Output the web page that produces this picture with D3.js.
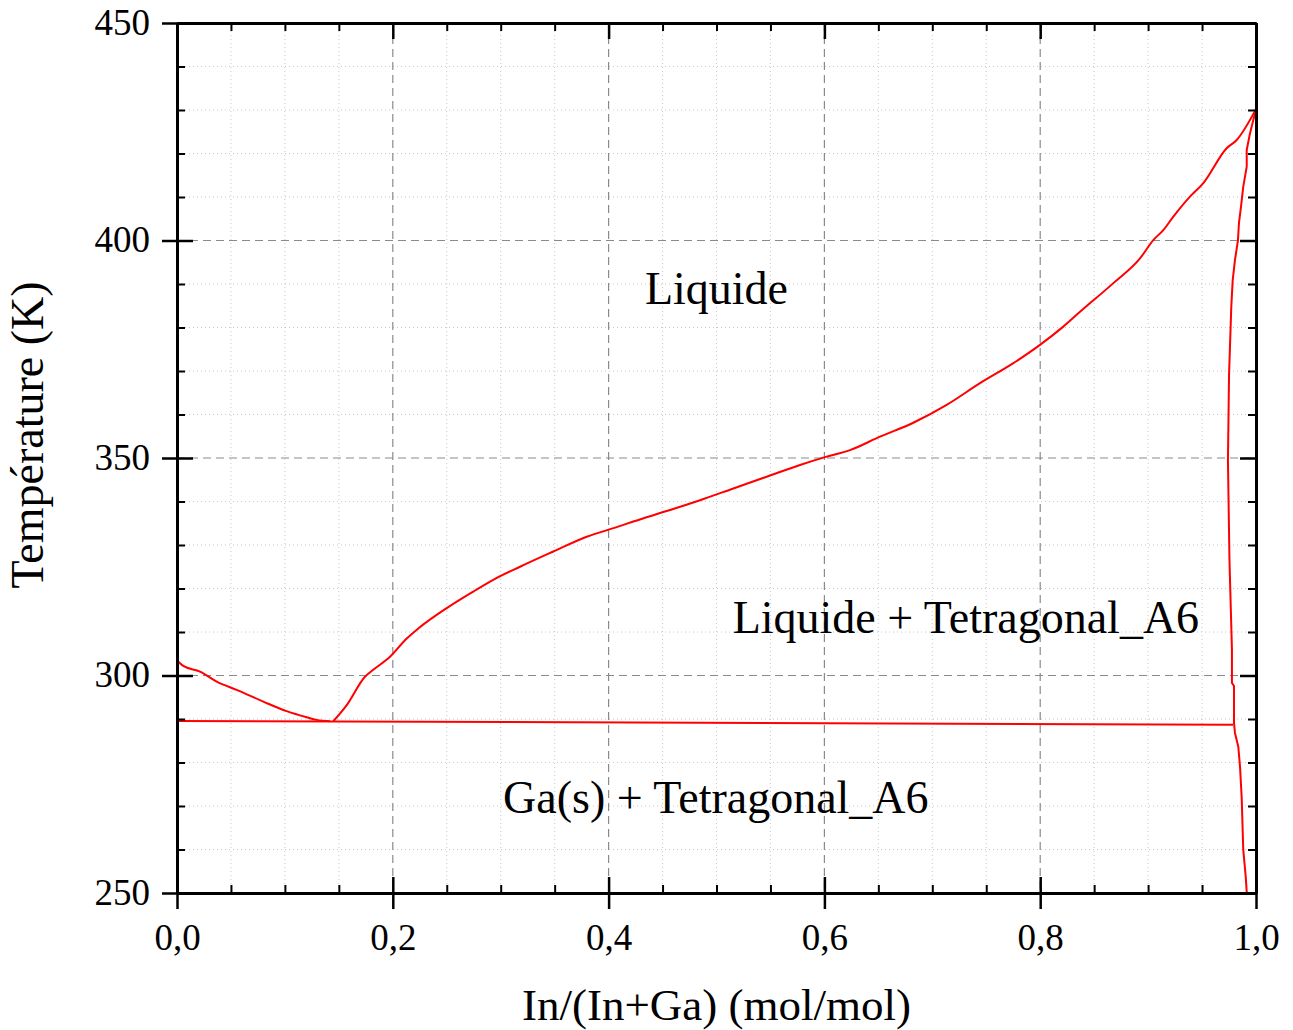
<!DOCTYPE html>
<html>
<head>
<meta charset="utf-8">
<script src="https://cdn.jsdelivr.net/npm/d3@7"></script>
<style>
  html, body { margin: 0; padding: 0; background: #fff; }
  svg { display: block; }
  text { font-family: "Liberation Serif", "Times New Roman", serif; fill: #000; }
</style>
</head>
<body>
<svg id="chart" width="1293" height="1030"></svg>
<script>
// ---- Data ----
const xMajorTicks = [0, 0.2, 0.4, 0.6, 0.8, 1.0];
const xMinorTicks = [0.05, 0.1, 0.15, 0.25, 0.3, 0.35, 0.45, 0.5, 0.55, 0.65, 0.7, 0.75, 0.85, 0.9, 0.95];
const yMajorTicks = [250, 300, 350, 400, 450];
const yMinorTicks = [260, 270, 280, 290, 310, 320, 330, 340, 360, 370, 380, 390, 410, 420, 430, 440];
const xGridMajor = [0.2, 0.4, 0.6, 0.8];
const yGridMajor = [300, 350, 400];

// Ga-side liquidus
const gaLiquidusX = [0.0003, 0.0058, 0.0213, 0.0368, 0.0553, 0.0800, 0.1017, 0.1202, 0.1295, 0.1418];
const gaLiquidusT = [303.4, 302.2, 300.9, 298.6, 296.7, 294.0, 291.8, 290.4, 289.8, 289.5];

// In-side liquidus
const inLiquidusX = [0.1449, 0.1573, 0.1742, 0.1819, 0.1974, 0.2129, 0.2236, 0.2500, 0.2746, 0.2931,
  0.3179, 0.3488, 0.3797, 0.4075, 0.4229, 0.4538, 0.4847, 0.5156, 0.5465, 0.5774,
  0.6006, 0.6237, 0.6515, 0.6824, 0.7133, 0.7442, 0.7751, 0.7998, 0.8214, 0.8369,
  0.8678, 0.8925, 0.9048, 0.9141, 0.9234, 0.9388, 0.9512, 0.9728, 0.9821, 1.0];
const inLiquidusT = [289.5, 293.2, 299.7, 301.3, 304.3, 308.5, 310.8, 315.5, 319.3, 322.0,
  325.0, 328.5, 331.9, 334.1, 335.4, 337.8, 340.3, 343.0, 345.7, 348.4,
  350.2, 351.8, 354.9, 358.1, 362.2, 367.2, 371.8, 376.0, 380.2, 383.6,
  390.2, 395.9, 400.1, 402.4, 405.5, 410.1, 413.2, 421.2, 423.1, 430.2];

// Tetragonal_A6 solidus / solvus
const solidusX = [1.0, 0.9944, 0.9914, 0.9914, 0.9882, 0.9861, 0.9842, 0.9833, 0.9805, 0.9784,
  0.9771, 0.9750, 0.9740, 0.9754, 0.9777, 0.9777, 0.9796, 0.9796, 0.9805, 0.9836,
  0.9852, 0.9867, 0.9882, 0.9905, 0.9914];
const solidusT = [430.2, 424.6, 420.8, 417.0, 412.4, 407.8, 404.0, 400.1, 395.5, 390.9,
  384.8, 369.0, 349.5, 326.6, 305.9, 298.3, 297.6, 289.1, 286.8, 283.6,
  279.0, 272.1, 259.9, 253.7, 250.2];

// Eutectic line
const eutecticX = [0.0, 0.9787];
const eutecticT = [289.55, 288.7];

const regionLabels = ["Liquide", "Liquide + Tetragonal_A6", "Ga(s) + Tetragonal_A6"];
const regionLabelX = [0.4337, 0.5150, 0.3022];
const regionLabelT = [385.5, 309.7, 268.4];

const xTitle = "In/(In+Ga) (mol/mol)";
const yTitle = "Température (K)";

// ---- Layout ----
const L = 177, R = 1256, T = 23, B = 893;
const svg = d3.select("#chart");
const x = d3.scaleLinear().domain([0, 1]).range([L, R]);
const y = d3.scaleLinear().domain([250, 450]).range([B, T]);
const fmtX = d => d3.format(".1f")(d).replace(".", ",");

// ---- Grid ----
const grid = svg.append("g");
grid.selectAll(".vminor").data(xMinorTicks).join("line")
  .attr("x1", d => x(d)).attr("x2", d => x(d)).attr("y1", T).attr("y2", B)
  .attr("stroke", "#c8c8c8").attr("stroke-width", 1).attr("stroke-dasharray", "1,3");
grid.selectAll(".hminor").data(yMinorTicks).join("line")
  .attr("y1", d => y(d)).attr("y2", d => y(d)).attr("x1", L).attr("x2", R)
  .attr("stroke", "#c8c8c8").attr("stroke-width", 1).attr("stroke-dasharray", "1,3");
grid.selectAll(".vmajor").data(xGridMajor).join("line")
  .attr("x1", d => x(d)).attr("x2", d => x(d)).attr("y1", T).attr("y2", B)
  .attr("stroke", "#8a8a8a").attr("stroke-width", 1.2).attr("stroke-dasharray", "8,5");
grid.selectAll(".hmajor").data(yGridMajor).join("line")
  .attr("y1", d => y(d)).attr("y2", d => y(d)).attr("x1", L).attr("x2", R)
  .attr("stroke", "#8a8a8a").attr("stroke-width", 1.2).attr("stroke-dasharray", "8,5");

// ---- Curves ----
const smooth = d3.line().x(d => x(d[0])).y(d => y(d[1])).curve(d3.curveMonotoneX);
const straight = d3.line().x(d => x(d[0])).y(d => y(d[1]));
const curves = [
  { pts: d3.zip(gaLiquidusX, gaLiquidusT), gen: smooth },
  { pts: d3.zip(inLiquidusX, inLiquidusT), gen: smooth },
  { pts: d3.zip(solidusX, solidusT), gen: straight },
  { pts: d3.zip(eutecticX, eutecticT), gen: straight }
];
svg.append("g").selectAll("path").data(curves).join("path")
  .attr("d", d => d.gen(d.pts)).attr("fill", "none").attr("stroke", "#ff0000")
  .attr("stroke-width", 2).attr("stroke-linejoin", "round");

// ---- Axes ----
function styleAxis(g, w) {
  g.select(".domain").attr("stroke", "#000").attr("stroke-width", 3);
  g.selectAll(".tick line").attr("stroke", "#000").attr("stroke-width", w);
}
// bottom
const gB1 = svg.append("g").attr("transform", `translate(0,${B})`)
  .call(d3.axisBottom(x).tickValues(xMajorTicks).tickSize(16).tickSizeOuter(0).tickFormat(fmtX));
styleAxis(gB1, 2.5);
gB1.selectAll("text").attr("y", 57).attr("dy", 0).attr("font-size", 37)
  .attr("font-family", "Liberation Serif, Times New Roman, serif");
const gB2 = svg.append("g").attr("transform", `translate(0,${B})`)
  .call(d3.axisTop(x).tickValues(xMajorTicks).tickSize(16).tickSizeOuter(0).tickFormat(""));
styleAxis(gB2, 2.5);
const gB3 = svg.append("g").attr("transform", `translate(0,${B})`)
  .call(d3.axisTop(x).tickValues(xMinorTicks).tickSize(8).tickSizeOuter(0).tickFormat(""));
styleAxis(gB3, 2);
// top
const gT1 = svg.append("g").attr("transform", `translate(0,${T})`)
  .call(d3.axisBottom(x).tickValues(xMajorTicks).tickSize(16).tickSizeOuter(0).tickFormat(""));
styleAxis(gT1, 2.5);
const gT2 = svg.append("g").attr("transform", `translate(0,${T})`)
  .call(d3.axisBottom(x).tickValues(xMinorTicks).tickSize(8).tickSizeOuter(0).tickFormat(""));
styleAxis(gT2, 2);
// left
const gL1 = svg.append("g").attr("transform", `translate(${L},0)`)
  .call(d3.axisLeft(y).tickValues(yMajorTicks).tickSize(15).tickSizeOuter(0).tickFormat(d3.format("d")));
styleAxis(gL1, 2.5);
gL1.selectAll("text").attr("x", -27).attr("dy", "0.3em").attr("font-size", 37)
  .attr("font-family", "Liberation Serif, Times New Roman, serif");
const gL2 = svg.append("g").attr("transform", `translate(${L},0)`)
  .call(d3.axisRight(y).tickValues(yMajorTicks).tickSize(16).tickSizeOuter(0).tickFormat(""));
styleAxis(gL2, 2.5);
const gL3 = svg.append("g").attr("transform", `translate(${L},0)`)
  .call(d3.axisRight(y).tickValues(yMinorTicks).tickSize(8).tickSizeOuter(0).tickFormat(""));
styleAxis(gL3, 2);
// right
const gR1 = svg.append("g").attr("transform", `translate(${R},0)`)
  .call(d3.axisLeft(y).tickValues(yMajorTicks).tickSize(16).tickSizeOuter(0).tickFormat(""));
styleAxis(gR1, 2.5);
const gR2 = svg.append("g").attr("transform", `translate(${R},0)`)
  .call(d3.axisLeft(y).tickValues(yMinorTicks).tickSize(8).tickSizeOuter(0).tickFormat(""));
styleAxis(gR2, 2);

// ---- Region labels ----
svg.append("g").selectAll("text").data(regionLabels).join("text")
  .attr("x", (d, i) => x(regionLabelX[i]))
  .attr("y", (d, i) => y(regionLabelT[i]))
  .attr("font-size", 46)
  .text(d => d);

// ---- Axis titles ----
svg.append("text").attr("x", (L + R) / 2).attr("y", 1020)
  .attr("text-anchor", "middle").attr("font-size", 45).text(xTitle);
svg.append("text").attr("transform", `translate(43,435) rotate(-90)`)
  .attr("text-anchor", "middle").attr("font-size", 46).text(yTitle);
</script>
</body>
</html>
